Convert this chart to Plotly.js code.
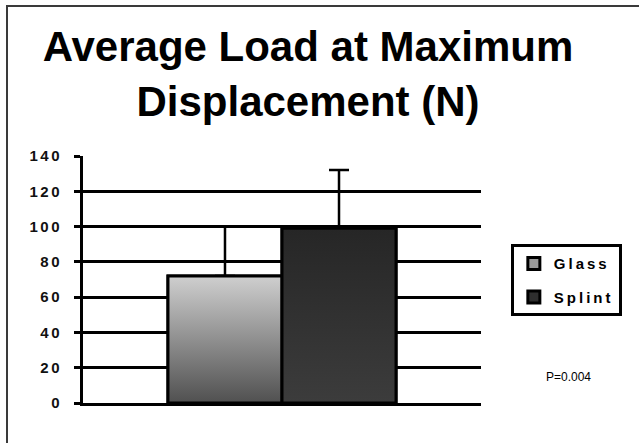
<!DOCTYPE html>
<html>
<head>
<meta charset="utf-8">
<script src="https://cdn.plot.ly/plotly-3.0.1.min.js"></script>
<style>
  html, body { margin: 0; padding: 0; background: #fff; }
  #wrap { position: relative; width: 639px; height: 443px; }
  #chart { position: absolute; left: 0; top: 0; width: 639px; height: 443px; }
  #frame { position: absolute; left: 6px; top: 5px; right: -5px; bottom: -5px;
           border-left: 2px solid #3a3a3a; border-top: 2px solid #3a3a3a; pointer-events: none; }
  .ytick text { letter-spacing: 2.5px; }
  .legendtext { letter-spacing: 3px; }
</style>
</head>
<body>
<div id="wrap">
  <div id="chart"></div>
  <div id="frame"></div>
</div>
<script>
// ---- data ----
const seriesNames = ['Glass', 'Splint'];
const meanLoad = [72, 99];
const errLoad = [28, 33];
const tickVals = [0, 20, 40, 60, 80, 100, 120, 140];
const tickText = ['0', '20', '40', '60', '80', '100', '120', '140'];
const pValueText = 'P=0.004';

// ---- styles ----
const barGap = 0.427;
const topColors = ['#cfcfcf', '#262626'];
const bottomColors = ['#505050', '#3c3c3c'];
const legendColors = ['#9a9a9a', '#2e2e2e'];

const barW = (1 - barGap) / seriesNames.length;
const traces = [];
seriesNames.forEach((name, i) => {
  traces.push({
    type: 'bar', name: name, x: [0], y: [meanLoad[i]],
    legendgroup: name,
    marker: { color: legendColors[i], line: { color: '#000', width: 3 } },
    error_y: { type: 'data', array: [errLoad[i]], symmetric: false, arrayminus: [0],
               color: '#000', thickness: 2.5, width: 10 },
    hoverinfo: 'skip'
  });
});
// gradient fill overlays derived from the same values
seriesNames.forEach((name, i) => {
  const x0 = -0.5 * (1 - barGap) + i * barW;
  const x1 = x0 + barW;
  traces.push({
    type: 'scatter', mode: 'lines', showlegend: false, hoverinfo: 'skip',
    x: [x0, x0, x1, x1, x0], y: [0, meanLoad[i], meanLoad[i], 0, 0],
    fill: 'toself',
    fillgradient: { type: 'vertical', colorscale: [[0, bottomColors[i]], [1, topColors[i]]] },
    line: { color: '#000', width: 3 }
  });
});

const layout = {
  width: 639, height: 443,
  paper_bgcolor: '#fff', plot_bgcolor: '#fff',
  margin: { l: 83, r: 158, t: 156, b: 40 },
  barmode: 'group', bargap: barGap, bargroupgap: 0,
  title: {
    text: 'Average Load at Maximum<br>Displacement (N)',
    font: { family: 'Liberation Sans, Arial, sans-serif', size: 42, weight: 'bold', color: '#000' },
    x: 0.482, xanchor: 'center', xref: 'container',
    y: 0.862, yanchor: 'top', yref: 'container'
  },
  xaxis: {
    type: 'linear', range: [-0.5, 0.5], showticklabels: false, ticks: '',
    showgrid: false, zeroline: false, showline: true, linecolor: '#000', linewidth: 3,
    fixedrange: true
  },
  yaxis: {
    range: [0, 140], tickvals: tickVals, ticktext: tickText,
    showgrid: true, gridcolor: '#000', gridwidth: 3,
    zeroline: false, showline: true, linecolor: '#000', linewidth: 3,
    ticks: 'outside', ticklen: 6, tickwidth: 3, tickcolor: '#000',
    ticklabelstandoff: 9,
    tickfont: { family: 'Liberation Sans, Arial, sans-serif', size: 15, weight: 'bold', color: '#111' },
    fixedrange: true
  },
  legend: {
    x: 1.075, xanchor: 'left', y: 0.643, yanchor: 'top',
    bordercolor: '#000', borderwidth: 3, bgcolor: '#fff',
    traceorder: 'grouped', tracegroupgap: 11,
    font: { family: 'Liberation Sans, Arial, sans-serif', size: 15, weight: 'bold', color: '#000' }
  },
  annotations: [{
    text: pValueText, xref: 'paper', yref: 'paper', x: 1.22, y: 0.105,
    xanchor: 'center', yanchor: 'middle', showarrow: false,
    font: { family: 'Liberation Sans, Arial, sans-serif', size: 12, color: '#000' }
  }],
  showlegend: true
};

Plotly.newPlot('chart', traces, layout, { staticPlot: true, displayModeBar: false });
</script>
</body>
</html>
